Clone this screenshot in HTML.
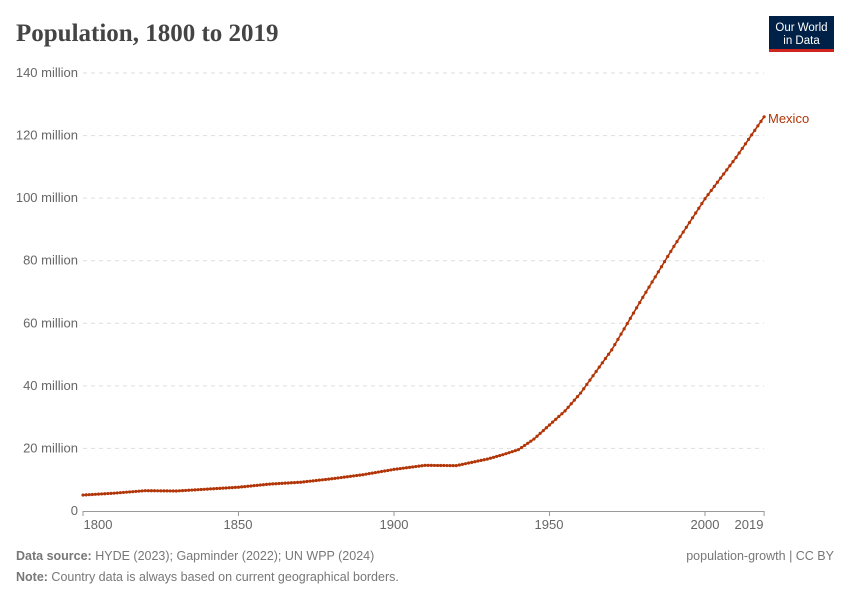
<!DOCTYPE html>
<html><head><meta charset="utf-8">
<style>
body{margin:0;width:850px;height:600px;background:#fff;font-family:"Liberation Sans",sans-serif;overflow:hidden}
</style></head><body>
<svg id="s" width="850" height="600" xmlns="http://www.w3.org/2000/svg">
<text x="16" y="41" font-family="Liberation Serif,serif" font-size="25" font-weight="bold" fill="#444">Population, 1800 to 2019</text>
<rect x="769" y="16" width="65" height="36" fill="#002147"/>
<rect x="769" y="49" width="65" height="3" fill="#ce261e"/>
<text x="801.5" y="31" font-size="11.5" fill="#fff" text-anchor="middle">Our World</text>
<text x="801.5" y="44" font-size="11.5" fill="#fff" text-anchor="middle">in Data</text>
<g id="grid" font-size="13" fill="#666"></g>
<g id="line"></g>
<text x="768" y="123" font-size="13" fill="#b13507">Mexico</text>
<text x="16" y="560" font-size="12.5" fill="#777"><tspan font-weight="bold">Data source:</tspan> HYDE (2023); Gapminder (2022); UN WPP (2024)</text>
<text x="834" y="560" font-size="12.5" fill="#777" text-anchor="end">population-growth | CC BY</text>
<text x="16" y="581" font-size="12.5" fill="#777"><tspan font-weight="bold">Note:</tspan> Country data is always based on current geographical borders.</text>
</svg>
<script>
var ns="http://www.w3.org/2000/svg",g=document.getElementById('grid'),L=document.getElementById('line');
function el(p,t,a,txt){var e=document.createElementNS(ns,t);for(var k in a)e.setAttribute(k,a[k]);if(txt)e.textContent=txt;p.appendChild(e);return e;}
function X(y){return 83+(y-1800)*3.11;}
function Y(v){return 511-v*3.1286;}
for(var i=0;i<=7;i++){var y=Y(i*20);
 if(i>0)el(g,'line',{x1:83,x2:764,y1:y,y2:y,stroke:'#ddd','stroke-dasharray':'4,4'});
 el(g,'text',{x:78,y:y+4,'text-anchor':'end'},i==0?'0':(i*20)+' million');}
el(g,'line',{x1:83,x2:764,y1:511.5,y2:511.5,stroke:'#999'});
[[1800,98],[1850,238],[1900,394],[1950,549],[2000,705],[2019,749]].forEach(function(t){
 el(g,'line',{x1:X(t[0]),x2:X(t[0]),y1:511,y2:516,stroke:'#999'});
 el(g,'text',{x:t[1],y:529,'text-anchor':'middle'},String(t[0]));});
var d=[[1800,5.1],[1810,5.7],[1820,6.5],[1830,6.4],[1840,7.0],[1850,7.6],[1860,8.6],[1870,9.2],[1880,10.3],[1890,11.6],[1900,13.3],[1910,14.6],[1920,14.5],[1930,16.6],[1935,18.0],[1940,19.6],[1945,23.0],[1950,27.5],[1955,32.0],[1960,37.7],[1970,51.5],[1980,68.3],[1990,84.6],[2000,99.8],[2010,113],[2019,126]];
var pts=[];
for(var yr=1800;yr<=2019;yr++){for(var j=0;j<d.length-1;j++){if(yr>=d[j][0]&&yr<=d[j+1][0]){var f=(yr-d[j][0])/(d[j+1][0]-d[j][0]);pts.push([X(yr),Y(d[j][1]+f*(d[j+1][1]-d[j][1]))]);break;}}}
el(L,'polyline',{points:pts.map(function(p){return p.join(',')}).join(' '),fill:'none',stroke:'#b13507','stroke-width':1.6});
pts.forEach(function(p){el(L,'circle',{cx:p[0],cy:p[1],r:1.6,fill:'#b13507'});});
</script>
</body></html>
